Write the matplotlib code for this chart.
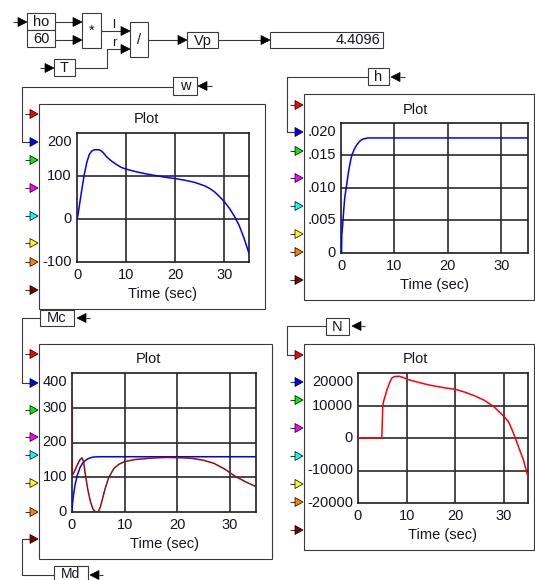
import matplotlib
matplotlib.use('Agg')
import matplotlib.pyplot as plt
from matplotlib.patches import Rectangle, Polygon
from matplotlib.transforms import offset_copy

plt.rcParams['font.family'] = ['Liberation Sans', 'DejaVu Sans']

# ---------------- data ----------------
display_value = "4.4096"

w_t = [0, 0.2, 0.6, 1, 1.5, 2, 2.5, 3, 3.5, 4.5, 5, 5.5, 6, 7, 8, 9, 10, 12, 14, 16, 18, 20,
       22, 24, 26, 27, 28, 29, 30, 31, 32, 33, 34, 35]
w_v = [0, 10, 40, 70, 105, 132, 150, 158, 161, 161, 158, 152, 145, 135, 127, 120, 116, 110, 105,
       101, 97, 94, 90, 85, 77, 71, 63, 52, 40, 25, 7, -15, -45, -80]

h_t = [0, 0.1, 0.15, 0.3, 0.5, 0.7, 1.0, 1.5, 2, 2.5, 3, 3.5, 4, 5, 35]
h_v = [0, 0.0, 0.0028, 0.0042, 0.0065, 0.0085, 0.0102, 0.0130, 0.0150, 0.0160, 0.0167,
       0.0172, 0.0175, 0.0177, 0.0177]

mc_t = [0, 0.1, 0.3, 0.6, 1, 1.5, 2, 2.5, 3, 3.5, 4, 5, 35]
mc_v = [0, 25, 50, 80, 105, 127, 140, 148, 153, 156, 158, 159, 159]

md_t = [0, 0.05, 0.5, 1, 1.5, 1.9, 2.2, 2.5, 3.0, 3.5, 4.0, 4.5, 5.0, 5.4, 5.8, 6.3, 7, 8, 9,
        10, 12, 15, 18, 21, 23, 25, 27, 29, 31, 33, 35]
md_v = [318, 105, 118, 135, 150, 156, 145, 112, 65, 30, 8, 0, 0, 15, 38, 67, 100, 126, 138,
        145, 151, 155, 157, 156, 154, 149, 140, 124, 103, 87, 73]

n_t = [0, 4.9, 5.1, 5.3, 5.6, 6.0, 6.5, 7.0, 7.5, 8.5, 9.5, 10.5, 13, 15, 18, 20, 22, 24, 26,
       28, 30, 31, 32, 33, 34, 35]
n_v = [0, 0, 9800, 11500, 12900, 15000, 17000, 18500, 18900, 19000, 18500, 17900, 16900,
       16200, 15400, 15000, 14100, 13000, 11600, 9600, 6700, 5000, 1500, -2500, -6500, -11900]

x_ticks = [0, 10, 20, 30]
x_labels = ['0', '10', '20', '30']
w_yticks = [-100, 0, 100, 200]
w_ylabels = ['-100', '0', '100', '200']
h_yticks = [0, 0.005, 0.010, 0.015, 0.020]
h_ylabels = ['0', '.005', '.010', '.015', '.020']
m_yticks = [0, 100, 200, 300, 400]
m_ylabels = ['0', '100', '200', '300', '400']
n_yticks = [-20000, -10000, 0, 10000, 20000]
n_ylabels = ['-20000', '-10000', '0', '10000', '20000']

# ---------------- figure ----------------
W, H = 535, 580
fig = plt.figure(figsize=(W / 100, H / 100), dpi=100)
fig.patch.set_facecolor('white')
bg = fig.add_axes([0, 0, 1, 1])
bg.set_xlim(0, W)
bg.set_ylim(H, 0)
bg.axis('off')

FS = 10.5
TXT = '#151520'
LINE = '#3a3a3a'
LW = 0.8


def wire(xs, ys):
    bg.plot(xs, ys, color=LINE, lw=LW, solid_capstyle='butt', zorder=2)


def box(x0, y0, x1, y1, label=None, ha='center', pad=3, fs=FS):
    bg.add_patch(Rectangle((x0, y0), x1 - x0, y1 - y0, facecolor='white',
                           edgecolor=LINE, lw=LW, zorder=3))
    if label is not None:
        if ha == 'center':
            bg.text((x0 + x1) / 2, (y0 + y1) / 2 + 0.5, label, ha='center', va='center',
                    fontsize=fs, color=TXT, zorder=4)
        else:
            bg.text(x1 - pad, (y0 + y1) / 2 + 0.5, label, ha='right', va='center',
                    fontsize=fs, color=TXT, zorder=4)


def arrow_r(xtip, y, color='black', L=9, h=4.5):
    bg.add_patch(Polygon([(xtip - L, y - h), (xtip, y), (xtip - L, y + h)], closed=True,
                         facecolor=color, edgecolor='black', lw=0.5, zorder=4))


def arrow_l(xtip, y, L=9, h=4.5):
    bg.add_patch(Polygon([(xtip + L, y - h), (xtip, y), (xtip + L, y + h)], closed=True,
                         facecolor='black', edgecolor='black', lw=0.5, zorder=4))


# ---- top block diagram ----
box(27, 13, 55, 30, 'ho')
box(27, 30, 55, 47, '60')
wire([13, 20], [22, 22]); arrow_r(27, 22)
wire([55, 73], [22, 22]); arrow_r(82, 22)
wire([55, 73], [40, 40]); arrow_r(82, 40)
box(82, 13, 101, 48, '*')
wire([101, 121], [31, 31]); arrow_r(130, 31)
bg.text(114, 25, 'l', ha='center', va='center', fontsize=FS - 1, color=TXT)
bg.text(114, 43, 'r', ha='center', va='center', fontsize=FS - 1, color=TXT)
box(130, 22, 148, 57, '/')
box(54, 59, 75, 76, 'T')
wire([40, 46], [68, 68]); arrow_r(54, 68)
wire([75, 107, 107, 121], [68, 68, 49, 49]); arrow_r(130, 49)
wire([148, 178], [40, 40]); arrow_r(187, 40)
box(187, 32, 218, 48, 'Vp')
wire([218, 261], [40, 40]); arrow_r(270, 40)
box(270, 32, 383, 48, display_value, ha='right')

# ---- goto/from labels ----
box(173, 77, 197, 95, 'w')
arrow_l(198, 86); wire([207, 212], [86, 86])
wire([173, 22, 22, 30], [87, 87, 142, 142])

box(368, 68, 389, 85, 'h')
arrow_l(391, 77); wire([400, 405], [77, 77])
wire([368, 287, 287, 295], [77, 77, 132, 132])

box(40, 310, 74, 326, 'Mc')
arrow_l(77, 318); wire([86, 90], [318, 318])
wire([40, 22, 22, 30], [318, 318, 383, 383])

box(54, 566, 88, 586)
bg.text(71, 573.5, 'Md', ha='center', va='center', fontsize=FS - 0.5, color=TXT, zorder=4)
arrow_l(90, 575); wire([99, 103], [575, 575])
wire([54, 22, 22, 30], [575, 575, 539, 539])

box(326, 318, 349, 335, 'N')
arrow_l(352, 326); wire([361, 365], [326, 326])
wire([326, 287, 287, 295], [326, 326, 355, 355])

# ---- panel boxes and ports ----
PORT_COLORS = ['#ff0000', '#0000ff', '#00ee00', '#ff00ff', '#00ffff', '#ffff00', '#ff8000',
               '#800000']


def panel(x0, y0, x1, y1, ports):
    bg.add_patch(Rectangle((x0, y0), x1 - x0, y1 - y0, facecolor='white',
                           edgecolor=LINE, lw=LW, zorder=1))
    for c, py in zip(PORT_COLORS, ports):
        wire([x0 - 14, x0 - 8], [py, py])
        arrow_r(x0 - 1, py, color=c, L=8, h=4.5)


panel(39, 104, 265, 309, [114, 142, 160, 188, 216, 243, 262, 290])
panel(304, 94, 534, 300, [105, 132, 151, 178, 206, 234, 252, 280])
panel(39, 344, 272, 559, [354, 383, 410, 437, 455, 483, 512, 539])
panel(304, 344, 534, 550, [355, 382, 400, 428, 456, 484, 502, 530])


def make_plot(px0, py0, px1, py1, box_cx, title_y, ylim, yticks, ylabels, series):
    ax = fig.add_axes([px0 / W, 1 - py1 / H, (px1 - px0) / W, (py1 - py0) / H])
    ax.set_xlim(0, 35)
    ax.set_ylim(*ylim)
    ax.set_xticks([])
    ax.set_yticks([])
    ax.patch.set_alpha(0)
    for s in ax.spines.values():
        s.set_color('#1e1e1e')
        s.set_linewidth(1.2)
    for xv in x_ticks[1:]:
        ax.axvline(xv, color='#2a2a2a', lw=1.2, zorder=1)
    for yv in yticks[1:-1]:
        ax.axhline(yv, color='#2a2a2a', lw=1.2, zorder=1)
    for t, v, c in series:
        ax.plot(t, v, color=c, lw=1.1, zorder=3)
    xt = offset_copy(ax.get_xaxis_transform(), fig=fig, y=-13, units='dots')
    for xv, lab in zip(x_ticks, x_labels):
        ax.text(xv, 0, lab, transform=xt, ha='center', va='center', fontsize=FS, color=TXT)
    yt = offset_copy(ax.get_yaxis_transform(), fig=fig, x=-5, units='dots')
    yt_top = offset_copy(ax.get_yaxis_transform(), fig=fig, x=-5, y=-9, units='dots')
    for i, (yv, lab) in enumerate(zip(yticks, ylabels)):
        tr = yt_top if i == len(yticks) - 1 else yt
        ax.text(0, yv, lab, transform=tr, ha='right', va='center', fontsize=FS, color=TXT)
    lt = offset_copy(ax.transAxes, fig=fig, y=-32, units='dots')
    ax.text(0.5, 0, 'Time (sec)', transform=lt, ha='center', va='center', fontsize=FS,
            color=TXT)
    bg.text(box_cx, title_y, 'Plot', ha='center', va='center', fontsize=FS, color=TXT)
    return ax


make_plot(77, 133, 249, 262, 146, 119, (-100, 200), w_yticks, w_ylabels,
          [(w_t, w_v, '#0000ff')])
make_plot(341, 123, 528, 253, 415, 110, (0, 0.020), h_yticks, h_ylabels,
          [(h_t, h_v, '#0000ff')])
make_plot(72, 373, 256, 512, 148, 359, (0, 400), m_yticks, m_ylabels,
          [(mc_t, mc_v, '#0000ff'), (md_t, md_v, '#8b1010')])
make_plot(358, 373, 528, 503, 415, 359, (-20000, 20000), n_yticks, n_ylabels,
          [(n_t, n_v, '#ff0000')])

fig.savefig('out.png', dpi=100, facecolor='white')
